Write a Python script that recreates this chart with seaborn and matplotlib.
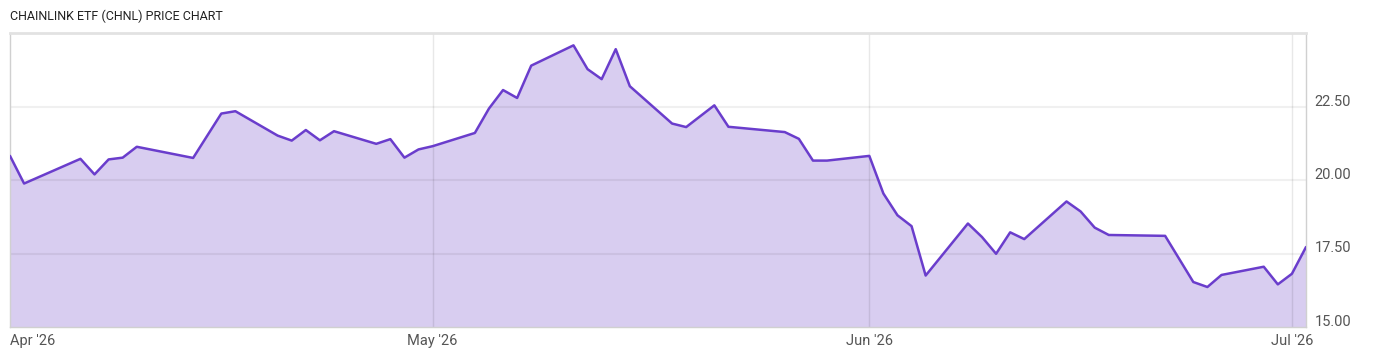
import pandas as pd
import numpy as np
import matplotlib
matplotlib.use('Agg')
import matplotlib.pyplot as plt
import matplotlib.dates as mdates
import matplotlib.transforms as mtransforms
import seaborn as sns

# CHNL closing prices
dates = ['2026-04-01', '2026-04-02', '2026-04-06', '2026-04-07', '2026-04-08', '2026-04-09',
         '2026-04-10', '2026-04-14', '2026-04-16', '2026-04-17', '2026-04-20', '2026-04-21',
         '2026-04-22', '2026-04-23', '2026-04-24', '2026-04-27', '2026-04-28', '2026-04-29',
         '2026-04-30', '2026-05-01', '2026-05-04', '2026-05-05', '2026-05-06', '2026-05-07',
         '2026-05-08', '2026-05-11', '2026-05-12', '2026-05-13', '2026-05-14', '2026-05-15',
         '2026-05-18', '2026-05-19', '2026-05-20', '2026-05-21', '2026-05-22', '2026-05-26',
         '2026-05-27', '2026-05-28', '2026-05-29', '2026-06-01', '2026-06-02', '2026-06-03',
         '2026-06-04', '2026-06-05', '2026-06-08', '2026-06-09', '2026-06-10', '2026-06-11',
         '2026-06-12', '2026-06-15', '2026-06-16', '2026-06-17', '2026-06-18', '2026-06-22',
         '2026-06-24', '2026-06-25', '2026-06-26', '2026-06-29', '2026-06-30', '2026-07-01',
         '2026-07-02']
prices = [20.82, 19.88, 20.72, 20.19, 20.70, 20.76,
          21.13, 20.75, 22.26, 22.34, 21.51, 21.34,
          21.70, 21.35, 21.66, 21.23, 21.39, 20.76,
          21.04, 21.15, 21.60, 22.43, 23.06, 22.79,
          23.89, 24.58, 23.77, 23.43, 24.45, 23.19,
          21.92, 21.80, 22.17, 22.54, 21.81, 21.63,
          21.40, 20.66, 20.66, 20.82, 19.54, 18.80,
          18.43, 16.75, 18.52, 18.06, 17.49, 18.22,
          17.99, 19.27, 18.93, 18.38, 18.13, 18.10,
          16.53, 16.36, 16.77, 17.05, 16.45, 16.81,
          17.72]

y_ticks = [15.0, 17.5, 20.0, 22.5]
month_ticks = ['2026-04-01', '2026-05-01', '2026-06-01', '2026-07-01']
month_labels = ["Apr '26", "May '26", "Jun '26", "Jul '26"]

df = pd.DataFrame({'date': pd.to_datetime(dates), 'price': prices})

sns.set_style('white')
plt.rcParams['font.family'] = ['Roboto', 'DejaVu Sans']

line_color = '#6a3dcc'
fill_color = '#d8cdf0'
text_color = '#555555'

fig = plt.figure(figsize=(14, 3.57), dpi=100)
ax = fig.add_axes([10 / 1400, 1 - 327 / 357, 1296 / 1400, 294 / 357])

ax.fill_between(df['date'], df['price'], 15, color=fill_color, linewidth=0, zorder=1)
sns.lineplot(x='date', y='price', data=df, color=line_color, linewidth=1.8, ax=ax, zorder=3)

ax.set_xlim(pd.Timestamp('2026-04-01'), pd.Timestamp('2026-07-02'))
ax.set_ylim(15, 25)

# grid on top of the fill
for yv in y_ticks[1:]:
    ax.axhline(yv, color='black', alpha=0.06, linewidth=1.5, zorder=2)
for m in month_ticks[1:]:
    ax.axvline(pd.Timestamp(m), color='black', alpha=0.09, linewidth=1, zorder=2)

ax.yaxis.tick_right()
ax.set_yticks(y_ticks)
ax.set_yticklabels([f'{v:.2f}' for v in y_ticks])
ax.tick_params(axis='y', length=0, pad=6, labelsize=10.5, labelcolor=text_color)
offset = mtransforms.ScaledTranslation(0, 6.5 / 100, fig.dpi_scale_trans)
for lab in ax.get_yticklabels():
    lab.set_transform(lab.get_transform() + offset)

ax.set_xticks(pd.to_datetime(month_ticks))
ax.set_xticklabels(month_labels)
ax.tick_params(axis='x', length=0, pad=5, labelsize=10.5, labelcolor=text_color)
ax.get_xticklabels()[0].set_ha('left')

ax.set_xlabel('')
ax.set_ylabel('')

for side in ['left', 'right', 'bottom']:
    ax.spines[side].set_color('#d0d0d0')
    ax.spines[side].set_linewidth(1)
ax.spines['top'].set_color('#e2e2e2')
ax.spines['top'].set_linewidth(2)

fig.text(10 / 1400, 1 - 16 / 357, 'CHAINLINK ETF (CHNL) PRICE CHART', ha='left', va='center',
         fontsize=9, color='#222222')

fig.savefig('out.png', dpi=100)
